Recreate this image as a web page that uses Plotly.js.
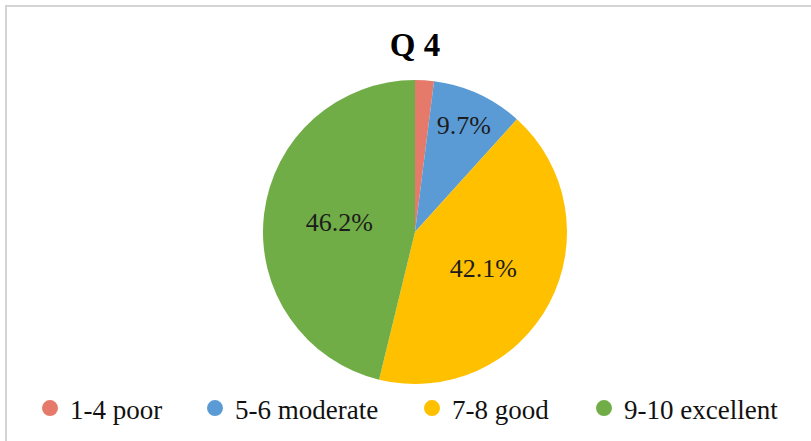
<!DOCTYPE html>
<html>
<head>
<meta charset="utf-8">
<script src="https://cdn.plot.ly/plotly-3.0.1.min.js"></script>
<style>
  html, body { margin: 0; padding: 0; background: #fff; }
  #wrap { position: relative; width: 811px; height: 441px; overflow: hidden; }
  #chart { width: 811px; height: 441px; }
  #frame { position: absolute; left: 5px; top: 5px; width: 820px; height: 460px;
           border-top: 2px solid #d4d4d4; border-left: 2px solid #d4d4d4; pointer-events: none; }
</style>
</head>
<body>
<div id="wrap">
  <div id="chart"></div>
  <div id="frame"></div>
</div>
<script>
const categories = ["1-4 poor", "5-6 moderate", "7-8 good", "9-10 excellent"];
const values = [2.0, 9.7, 42.1, 46.2];
const sliceColors = ["#E57A6A", "#5B9BD5", "#FFC000", "#70AD47"];
const labelTemplates = ["", "%{percent:.1%}", "%{percent:.1%}", "%{percent:.1%}"];
const chartTitle = "Q 4";

const serif = "Liberation Serif, Times New Roman, serif";
const W = 811;
// legend item left edges (px) for separate legends
const legendX = [30, 195, 412, 584];
const legendNames = ["legend", "legend2", "legend3", "legend4"];

const pie = {
  type: "pie",
  labels: categories,
  values: values,
  sort: false,
  direction: "clockwise",
  rotation: 0,
  domain: { x: [263 / W, 567 / W], y: [0, 1] },
  marker: { colors: sliceColors, line: { width: 0 } },
  texttemplate: labelTemplates,
  textposition: "inside",
  insidetextorientation: "horizontal",
  textfont: { family: serif, size: 26, color: "#1c1c1c" },
  hoverinfo: "none",
  showlegend: false
};

const legendTraces = categories.map((c, i) => ({
  type: "scatter",
  mode: "markers",
  x: [null],
  y: [null],
  name: c,
  legend: legendNames[i],
  marker: { symbol: "circle", size: 16, color: sliceColors[i] },
  hoverinfo: "none",
  showlegend: true
}));

const layout = {
  width: 811,
  height: 441,
  margin: { l: 0, r: 0, t: 80, b: 57 },
  paper_bgcolor: "#ffffff",
  plot_bgcolor: "#ffffff",
  title: {
    text: "<b>" + chartTitle + "</b>",
    font: { family: serif, size: 33, color: "#000" },
    x: 415 / W,
    xanchor: "center",
    y: 0.9,
    yanchor: "middle"
  },
  xaxis: { visible: false },
  yaxis: { visible: false },
  showlegend: true
};

legendNames.forEach((ln, i) => {
  layout[ln] = {
    orientation: "h",
    x: legendX[i] / W,
    xanchor: "left",
    y: 0.0,
    yanchor: "top",
    font: { family: serif, size: 27, color: "#111" },
    itemsizing: "trace",
    bgcolor: "rgba(0,0,0,0)"
  };
});

Plotly.newPlot("chart", [pie, ...legendTraces], layout, { displayModeBar: false, staticPlot: true });
</script>
</body>
</html>
